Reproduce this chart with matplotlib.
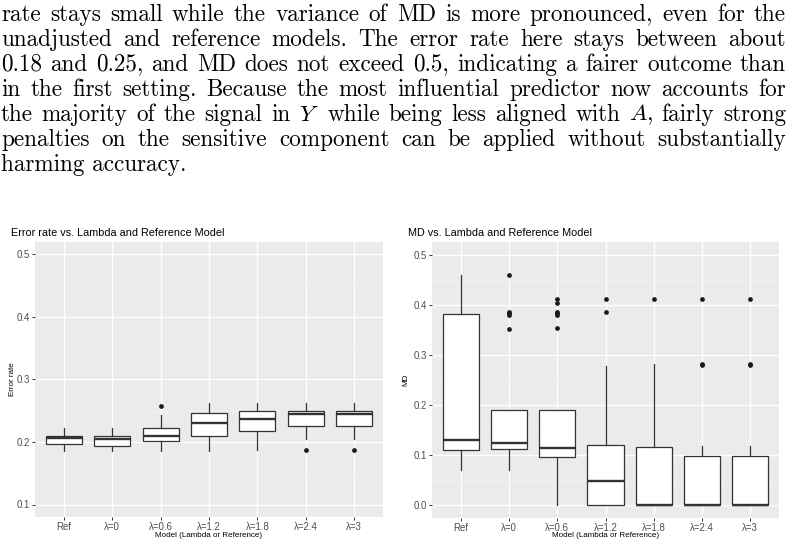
import matplotlib
matplotlib.use("Agg")
import matplotlib.pyplot as plt
from matplotlib.ticker import MultipleLocator

plt.rcParams['mathtext.fontset'] = 'cm'

# paragraph above the figure (justified lines, last one ragged)
para_lines = [
    "rate stays small while the variance of MD is more pronounced, even for the",
    "unadjusted and reference models.  The error rate here stays between about",
    "0.18 and 0.25, and MD does not exceed 0.5, indicating a fairer outcome than",
    "in the first setting. Because the most influential predictor now accounts for",
    "the majority of the signal in $Y$ while being less aligned with $A$, fairly strong",
    "penalties on the sensitive component can be applied without substantially",
    "harming accuracy.",
]

models = ["Ref", "λ=0", "λ=0.6", "λ=1.2", "λ=1.8", "λ=2.4", "λ=3"]

# error rate boxes: lower whisker, q1, median, q3, upper whisker
err_lo  = [0.186, 0.186, 0.186, 0.186, 0.187, 0.204, 0.204]
err_q1  = [0.196, 0.194, 0.201, 0.210, 0.217, 0.225, 0.225]
err_med = [0.206, 0.204, 0.210, 0.231, 0.237, 0.244, 0.244]
err_q3  = [0.210, 0.210, 0.223, 0.247, 0.249, 0.249, 0.249]
err_hi  = [0.223, 0.223, 0.243, 0.262, 0.262, 0.262, 0.262]
err_out = [[], [], [0.258], [], [], [0.187], [0.187]]

# MD boxes
md_lo  = [0.069, 0.069, 0.0, 0.0, 0.0, 0.0, 0.0]
md_q1  = [0.110, 0.112, 0.096, 0.0, 0.0, 0.0, 0.0]
md_med = [0.130, 0.123, 0.113, 0.047, 0.0, 0.0, 0.0]
md_q3  = [0.381, 0.189, 0.189, 0.120, 0.115, 0.097, 0.097]
md_hi  = [0.459, 0.189, 0.189, 0.278, 0.282, 0.118, 0.118]
md_out = [[], [0.459, 0.386, 0.383, 0.379, 0.351],
          [0.411, 0.403, 0.386, 0.383, 0.379, 0.353],
          [0.411, 0.386], [0.411], [0.411, 0.281, 0.279], [0.411, 0.281, 0.279]]

W, H = 788, 547
fig = plt.figure(figsize=(W / 100, H / 100), dpi=100)
renderer = fig.canvas.get_renderer()

# --- paragraph ---
left_px, right_px = 1, 786
# pick a size so the widest justified line only needs a little stretch
probe = fig.text(0, 0, "", family='cmr10', fontsize=10)
natural = []
for line in para_lines[:-1]:
    probe.set_text(line)
    natural.append(probe.get_window_extent(renderer).width)
probe.remove()
fs = 10 * (right_px - left_px - 6) / max(natural)

for i, line in enumerate(para_lines):
    yb = 1 - (20.7 + 25 * i) / H
    if i == len(para_lines) - 1:
        fig.text(left_px / W, yb, line, family='cmr10', fontsize=fs, va='baseline')
        continue
    words = line.split()
    arts = [fig.text(0, yb, w, family='cmr10', fontsize=fs, va='baseline') for w in words]
    widths = [a.get_window_extent(renderer).width for a in arts]
    gap = (right_px - left_px - sum(widths)) / (len(words) - 1)
    x = left_px
    for a, w in zip(arts, widths):
        a.set_x(x / W)
        x += w + gap


def gg_panel(rect, lo, q1, med, q3, hi, out, ylim, major, title, ylabel, ylab_x):
    ax = fig.add_axes(rect)
    ax.set_facecolor('#EBEBEB')
    stats = []
    for k in range(len(models)):
        stats.append(dict(whislo=lo[k], q1=q1[k], med=med[k], q3=q3[k],
                          whishi=hi[k], fliers=out[k]))
    ax.bxp(stats, positions=range(1, len(models) + 1), widths=0.75,
           patch_artist=True, showcaps=False,
           boxprops=dict(facecolor='white', edgecolor='#333333', linewidth=0.9),
           whiskerprops=dict(color='#333333', linewidth=0.9),
           medianprops=dict(color='#333333', linewidth=1.7),
           flierprops=dict(marker='o', markersize=2.4, markerfacecolor='#1A1A1A',
                           markeredgecolor='#1A1A1A'),
           zorder=3)
    ax.set_xlim(0.4, len(models) + 0.6)
    ax.set_ylim(*ylim)
    ax.yaxis.set_major_locator(MultipleLocator(major))
    ax.yaxis.set_minor_locator(MultipleLocator(major / 2))
    ax.grid(which='major', color='white', linewidth=1.0, zorder=0)
    ax.grid(which='minor', axis='y', color='#F5F5F5', linewidth=0.5, zorder=0)
    ax.set_axisbelow(True)
    for s in ax.spines.values():
        s.set_visible(False)
    ax.set_xticks(range(1, len(models) + 1))
    ax.set_xticklabels(models)
    ax.tick_params(which='major', length=2, width=0.7, color='#333333',
                   labelcolor='#4D4D4D', labelsize=6.9, pad=1.8)
    ax.tick_params(which='minor', length=0)
    ax.set_title(title, loc='left', fontsize=7.8, color='black', pad=4,
                 family='Liberation Sans', x=-0.07)
    ax.set_xlabel("Model (Lambda or Reference)", fontsize=5.8,
                  family='Liberation Sans')
    ax.set_ylabel(ylabel, fontsize=5.8, family='Liberation Sans')
    ax.xaxis.set_label_coords(0.5, -0.053)
    ax.yaxis.set_label_coords(ylab_x, 0.5)
    for lab in ax.get_xticklabels() + ax.get_yticklabels():
        lab.set_family('Liberation Sans')
    return ax


gg_panel([35 / W, 1 - 517 / H, 348 / W, 275 / H],
         err_lo, err_q1, err_med, err_q3, err_hi, err_out,
         (0.08, 0.52), 0.1, "Error rate vs. Lambda and Reference Model", "Error rate",
         -0.056)
gg_panel([432 / W, 1 - 517.5 / H, 347 / W, 275.5 / H],
         md_lo, md_q1, md_med, md_q3, md_hi, md_out,
         (-0.025, 0.525), 0.1, "MD vs. Lambda and Reference Model", "MD",
         -0.065)

fig.savefig("out.png", dpi=100)
